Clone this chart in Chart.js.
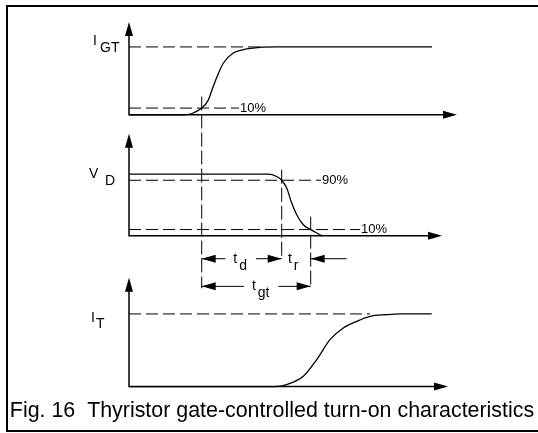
<!DOCTYPE html>
<html>
<head>
<meta charset="utf-8">
<script src="https://cdn.jsdelivr.net/npm/chart.js@4.4.1/dist/chart.umd.min.js"></script>
<style>
  html, body { margin: 0; padding: 0; background: #fff; }
  #wrap { width: 538px; height: 433px; }
</style>
</head>
<body>
<div id="wrap"><canvas id="chart" width="538" height="433"></canvas></div>
<script>
// time in arbitrary units (0 = trigger), each signal normalised to its final value
const igtT = [0, 5.4, 6.3, 7.27, 7.9, 8.43, 8.8, 9.43, 10.43, 11.77, 13.1, 14.8, 30.3];
const igtV = [0, 0, 0.02, 0.10, 0.21, 0.42, 0.56, 0.76, 0.91, 0.97, 0.995, 1, 1];

const vdT = [0, 13.9, 14.77, 15.27, 15.77, 16.27, 16.77, 17.43, 18.17, 18.77, 19.27];
const vdV = [1, 1, 0.961, 0.90, 0.773, 0.53, 0.34, 0.178, 0.10, 0.044, 0];

const itT = [0, 14.6, 15.77, 17.43, 18.77, 20.1, 21.43, 22.77, 24.1, 25.77, 27.1, 30.27];
const itV = [0, 0, 0.028, 0.142, 0.371, 0.646, 0.807, 0.898, 0.967, 0.99, 1, 1];

// dashed reference levels per panel, where they stop, and their tags
const refLevels = [[1, 0.1], [0.9, 0.1], [1]];
const refEnds = [[13.6, 11.0], [19.2, 23.1], [24.1]];
const refTags = [['', '10%'], ['90%', '10%'], ['']];

// threshold crossings used for the timing marks
const tOn = 7.27;   // gate current at 10%
const t90 = 15.27;  // voltage down to 90%
const t10 = 18.17;  // voltage down to 10%

const names = ['I', 'V', 'I'];
const subs = ['GT', 'D', 'T'];
const caption = 'Fig. 16  Thyristor gate-controlled turn-on characteristics';

const FONT = '"Liberation Sans", Arial, Helvetica, sans-serif';

// one stacked y scale per trace
const panels = [
  { id: 'yI', weight: 120, min: -0.0735, max: 1.691, top: 1.368, end: 32.8, nameAt: [-36, -2], subAt: [-29, 5] },
  { id: 'yV', weight: 123, min: -0.1134, max: 1.880, top: 1.653, end: 31.3, nameAt: [-40, 4], subAt: [-24, 11] },
  { id: 'yT', weight: 151.8, min: -0.107, max: 1.981, top: 1.5, end: 31.9, nameAt: [-38, 8], subAt: [-33, 14] }
];

// rows of the timing dimensions, in units of the voltage trace
const rowTd = -0.373;
const rowTgt = -0.822;

function pts(ts, vs) {
  return ts.map((t, i) => ({ x: t, y: vs[i] }));
}

const datasets = [];
const curves = [[igtT, igtV], [vdT, vdV], [itT, itV]];
curves.forEach((c, i) => {
  datasets.push({
    data: pts(c[0], c[1]),
    yAxisID: panels[i].id,
    borderColor: '#000',
    borderWidth: 1.3,
    cubicInterpolationMode: 'monotone',
    pointRadius: 0,
    clip: false
  });
  refLevels[i].forEach((lv, j) => {
    datasets.push({
      data: [{ x: 0, y: lv }, { x: refEnds[i][j], y: lv }],
      yAxisID: panels[i].id,
      borderColor: '#000',
      borderWidth: 1,
      borderDash: [12, 5],
      pointRadius: 0,
      clip: false
    });
  });
});

function arrowHead(ctx, x, y, dx, dy) {
  const len = 14, half = 4;
  const bx = x - dx * len, by = y - dy * len;
  ctx.beginPath();
  ctx.moveTo(x, y);
  ctx.lineTo(bx - dy * half, by + dx * half);
  ctx.lineTo(bx + dy * half, by - dx * half);
  ctx.closePath();
  ctx.fill();
}

function line(ctx, x1, y1, x2, y2) {
  ctx.beginPath();
  ctx.moveTo(x1, y1);
  ctx.lineTo(x2, y2);
  ctx.stroke();
}

// "t" with a lowered suffix, centred on cx
function timeLabel(ctx, cx, y, sub) {
  ctx.font = '14px ' + FONT;
  const wm = ctx.measureText('t').width;
  const ws = ctx.measureText(sub).width;
  const total = wm + 2 + ws;
  const left = cx - total / 2;
  ctx.fillText('t', left, y + 4);
  ctx.fillText(sub, left + wm + 2, y + 11);
  return [left, left + total];
}

function dimension(ctx, xl, xr, y, sub, shift) {
  const [a, b] = timeLabel(ctx, (xl + xr) / 2 + shift, y, sub);
  line(ctx, xl, y, a - 8, y);
  line(ctx, b + 9, y, xr, y);
  arrowHead(ctx, xl, y, -1, 0);
  arrowHead(ctx, xr, y, 1, 0);
}

const diagram = {
  id: 'diagram',
  afterDatasetsDraw(chart) {
    const { ctx, scales } = chart;
    const xs = scales.x;
    const x0 = xs.getPixelForValue(0);
    ctx.save();
    ctx.strokeStyle = '#000';
    ctx.fillStyle = '#000';
    ctx.textAlign = 'left';

    panels.forEach((p, i) => {
      const ys = scales[p.id];
      const y0 = ys.getPixelForValue(0);
      const yTop = ys.getPixelForValue(p.top);
      const xEnd = xs.getPixelForValue(p.end);
      ctx.setLineDash([]);
      ctx.lineWidth = 1.5;
      ctx.beginPath();
      ctx.moveTo(x0, yTop + 8);
      ctx.lineTo(x0, y0);
      ctx.lineTo(xEnd - 8, y0);
      ctx.stroke();
      arrowHead(ctx, x0, yTop, 0, -1);
      arrowHead(ctx, xEnd, y0, 1, 0);

      const yl = ys.getPixelForValue(1);
      ctx.font = '14px ' + FONT;
      ctx.textBaseline = 'alphabetic';
      ctx.fillText(names[i], x0 + p.nameAt[0], yl + p.nameAt[1]);
      ctx.fillText(subs[i], x0 + p.subAt[0], yl + p.subAt[1]);

      ctx.font = '13px ' + FONT;
      ctx.textBaseline = 'middle';
      refLevels[i].forEach((lv, j) => {
        if (refTags[i][j]) {
          ctx.fillText(refTags[i][j], xs.getPixelForValue(refEnds[i][j]) + 1, ys.getPixelForValue(lv));
        }
      });
    });

    const yI = scales.yI, yV = scales.yV;
    const xa = xs.getPixelForValue(tOn);
    const xb = xs.getPixelForValue(t90);
    const xc = xs.getPixelForValue(t10);
    const yTd = yV.getPixelForValue(rowTd);
    const yTgt = yV.getPixelForValue(rowTgt);

    // dashed markers down from the threshold crossings
    ctx.lineWidth = 1;
    ctx.setLineDash([14, 4]);
    line(ctx, xa, yI.getPixelForValue(0.27), xa, yTgt + 2);
    line(ctx, xb, yV.getPixelForValue(1.07), xb, yTd + 1);
    line(ctx, xc, yV.getPixelForValue(0.31), xc, yTgt + 2);
    ctx.setLineDash([]);

    ctx.textBaseline = 'alphabetic';
    dimension(ctx, xa, xb, yTd, 'd', -1.5);
    dimension(ctx, xa, xc, yTgt, 'gt', 4.5);
    timeLabel(ctx, (xb + xc) / 2 - 3, yTd, 'r');
    line(ctx, xc, yTd, xc + 36, yTd);
    arrowHead(ctx, xc, yTd, -1, 0);

    // frame, open on the right
    ctx.lineWidth = 2;
    ctx.strokeRect(7, 6, 545, 425);
    ctx.restore();
  }
};

const scales = {
  x: { type: 'linear', min: -12.3, max: 40.9, display: false }
};
panels.forEach(p => {
  scales[p.id] = {
    type: 'linear', position: 'right', stack: 'traces', stackWeight: p.weight,
    min: p.min, max: p.max, display: false
  };
});

new Chart(document.getElementById('chart'), {
  type: 'line',
  data: { datasets },
  options: {
    responsive: false,
    animation: false,
    events: [],
    layout: { padding: { left: 6, right: 0, top: 0, bottom: 0 } },
    scales,
    plugins: {
      legend: { display: false },
      tooltip: { enabled: false },
      title: {
        display: true,
        position: 'bottom',
        text: caption,
        color: '#000',
        font: { family: FONT, size: 21.4, weight: 'normal', lineHeight: 1.2 },
        padding: { top: 4, bottom: 9 }
      }
    }
  },
  plugins: [diagram]
});
</script>
</body>
</html>
